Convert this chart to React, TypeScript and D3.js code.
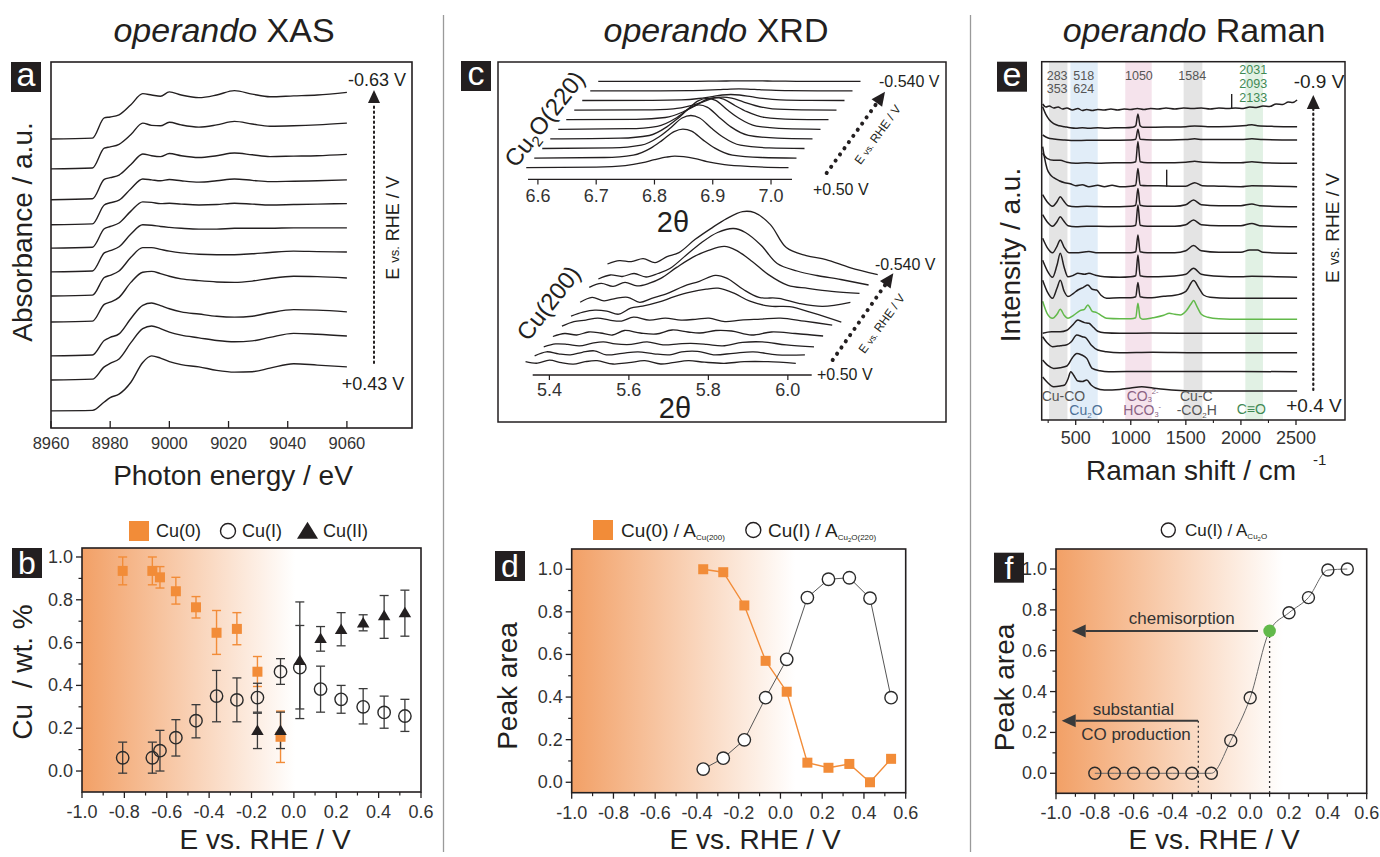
import React from 'react';
import * as d3 from 'd3';

const FONT = "'Liberation Sans', Arial, Helvetica, sans-serif";
const INK = '#231f20';
const ORANGE = '#f28c38';
const GRAD_L = '#f2a066';
const GREEN = '#62b94a';

// ---------------- panel a : operando XAS ----------------
const XAS_E = [8960, 8974, 8978, 8980, 8983, 8987, 8991, 8994, 8997, 9000, 9004, 9010, 9016, 9022, 9028, 9034, 9042, 9050, 9060];
const XAS_TRACES = [
  [0, 0.02, 0.48, 0.5, 0.55, 0.78, 1.03, 1.0, 0.97, 1.07, 1.0, 0.94, 1.0, 1.1, 1.02, 0.96, 0.98, 1.0, 1.06],
  [0, 0.02, 0.47, 0.5, 0.56, 0.78, 1.04, 0.99, 0.98, 1.06, 1.0, 0.95, 1.0, 1.08, 1.02, 0.97, 0.98, 1.0, 1.04],
  [0, 0.02, 0.46, 0.5, 0.56, 0.8, 1.04, 1.0, 0.98, 1.05, 1.0, 0.96, 1.0, 1.06, 1.02, 0.98, 0.99, 1.0, 1.03],
  [0, 0.02, 0.45, 0.5, 0.56, 0.82, 1.04, 1.02, 1.0, 1.03, 1.0, 0.97, 1.0, 1.04, 1.01, 0.98, 0.99, 1.0, 1.02],
  [0, 0.02, 0.44, 0.49, 0.57, 0.84, 1.05, 1.04, 1.01, 1.02, 1.0, 0.98, 0.99, 1.02, 1.0, 0.98, 0.99, 1.0, 1.01],
  [0, 0.02, 0.43, 0.48, 0.57, 0.86, 1.07, 1.06, 1.03, 1.01, 0.99, 0.97, 0.97, 0.99, 0.99, 0.99, 1.0, 1.0, 1.0],
  [0, 0.02, 0.42, 0.47, 0.57, 0.88, 1.1, 1.1, 1.06, 1.02, 0.98, 0.95, 0.94, 0.94, 0.96, 0.99, 1.02, 1.01, 1.0],
  [0, 0.02, 0.4, 0.45, 0.56, 0.9, 1.13, 1.15, 1.1, 1.04, 0.98, 0.94, 0.91, 0.9, 0.93, 0.99, 1.04, 1.03, 1.0],
  [0, 0.02, 0.35, 0.42, 0.5, 0.85, 1.15, 1.2, 1.14, 1.07, 1.0, 0.95, 0.9, 0.88, 0.9, 0.98, 1.05, 1.04, 1.0],
  [0, 0.02, 0.3, 0.38, 0.48, 0.85, 1.17, 1.23, 1.17, 1.09, 1.02, 0.96, 0.9, 0.87, 0.89, 0.97, 1.06, 1.04, 1.0],
  [0, 0.01, 0.2, 0.3, 0.38, 0.65, 1.1, 1.25, 1.2, 1.12, 1.05, 1.0, 0.92, 0.88, 0.89, 0.97, 1.07, 1.04, 1.0],
];
const XAS_OFFSET = [6.18, 5.5, 4.8, 4.23, 3.7, 3.16, 2.61, 2.02, 1.25, 0.7, 0];
const XAS_TICKS = [8960, 8980, 9000, 9020, 9040, 9060];
const XAS_POT = ['-0.63 V', '+0.43 V'];

// ---------------- panel b : XAS fractions ----------------
const CU0_E = [-0.808, -0.668, -0.632, -0.557, -0.462, -0.365, -0.269, -0.172, -0.063];
const CU0_V = [0.935, 0.935, 0.905, 0.84, 0.765, 0.646, 0.664, 0.464, 0.16];
const CU0_LO = [0.87, 0.87, 0.855, 0.78, 0.715, 0.545, 0.59, 0.395, 0.04];
const CU0_HI = [1.0, 1.0, 0.955, 0.905, 0.815, 0.75, 0.74, 0.535, 0.28];
const CU1_E = [-0.808, -0.668, -0.632, -0.557, -0.462, -0.365, -0.269, -0.172, -0.063, 0.028, 0.126, 0.223, 0.327, 0.426, 0.524];
const CU1_V = [0.062, 0.062, 0.095, 0.156, 0.235, 0.35, 0.332, 0.343, 0.464, 0.483, 0.383, 0.335, 0.3, 0.274, 0.257];
const CU1_LO = [-0.01, -0.01, 0.0, 0.07, 0.155, 0.23, 0.23, 0.275, 0.405, 0.245, 0.275, 0.27, 0.22, 0.2, 0.185];
const CU1_HI = [0.135, 0.135, 0.19, 0.24, 0.31, 0.47, 0.435, 0.41, 0.525, 0.79, 0.49, 0.4, 0.385, 0.35, 0.335];
const CU2_E = [-0.172, -0.063, 0.028, 0.126, 0.223, 0.327, 0.426, 0.524];
const CU2_V = [0.19, 0.19, 0.517, 0.62, 0.662, 0.693, 0.726, 0.74];
const CU2_LO = [0.105, 0.105, 0.29, 0.56, 0.585, 0.655, 0.62, 0.63];
const CU2_HI = [0.27, 0.275, 0.68, 0.675, 0.74, 0.73, 0.82, 0.845];

// ---------------- panel c : operando XRD ----------------
const XRD1_X = [6.58, 6.7, 6.75, 6.78, 6.8, 6.82, 6.835, 6.85, 6.87, 6.89, 6.92, 6.97, 7.03];
const XRD1_I = [
  [0, 0.5, 2, 5, 8, 10.5, 11.5, 11, 9, 6, 3, 1, 0],
  [0, 0.6, 3, 10, 18, 26.5, 29, 27, 18, 10, 3, 0.6, 0],
  [0, 0.6, 3.3, 11.5, 20.5, 30.5, 33, 30.5, 20.5, 11.5, 3.3, 0.6, 0],
  [0, 0.7, 3.4, 12, 21, 31, 34, 31.5, 21.5, 12, 3.5, 0.7, 0],
  [0, 0.6, 3, 10.5, 19, 28.5, 31, 29, 19.5, 11, 3.2, 0.6, 0],
  [0, 0.4, 2.2, 7.7, 13.6, 20, 22, 20.5, 14, 8, 2.3, 0.4, 0],
  [0, 0.3, 1.3, 4.5, 8, 12, 13, 12, 8.2, 4.6, 1.3, 0.3, 0],
  [0, 0.1, 0.6, 2, 3.7, 5.5, 6, 5.5, 3.8, 2.1, 0.6, 0.1, 0],
  [0, 0, 0.2, 0.7, 1.2, 1.8, 2, 1.8, 1.2, 0.7, 0.2, 0, 0],
  [0, 0, 0, 0.2, 0.3, 0.5, 0.5, 0.5, 0.3, 0.2, 0, 0, 0],
];
const XRD1_TICKS = [6.6, 6.7, 6.8, 6.9, 7.0];
const XRD2_X = [5.34, 5.37, 5.4, 5.43, 5.46, 5.49, 5.52, 5.56, 5.6, 5.64, 5.68, 5.71, 5.75, 5.79, 5.84, 5.89, 5.95, 6.02];
const XRD2_I = [
  [1, -0.5, 2.5, 0, -1.5, 1, 2, -1.3, 0, 2, -1.3, 0, 2, 0.5, -0.6, 1, 1, -0.6],
  [-4, 0, -2, -3, -0.5, 1, -3, -1.5, 0, -2, -3, 0, 0.5, -3, -1.5, 0, -3, -3],
  [-6, -3, -3.5, -5, -2.5, -1, -3, -3.5, -1, -4, -3, -2.5, -3.5, -5, -1.5, -1, -4, -6],
  [-6.5, -3.5, -5, -2, -3, -5, -0.5, -3, -4, 0, -2, -3, -0.5, -1, -5, -2, -3.5, -6],
  [-7, -2.5, -1, 1, -1, -2, 2, -1, 1, -1, 0, 1, -2.5, -1, 0, 1, -2, -6],
  [-8, -4, -2, -3, -6, 0, 2, 6, 11.5, 16, 19, 20, 15, 7, 2, 1.5, -5, -14],
  [-5, 0, -3.5, -1, 0, -5, -1, 4, 11, 16, 22, 19, 8, 0, -1, -6, -9, -5],
  [-1, 3, 0, 4, 0.5, 3, 8, 19, 29, 36, 40, 36, 25, 12, 1, -2, -5, -7],
  [-3.5, 0.5, -1, 2, -1.5, 2, 7, 20, 33, 43, 47, 43, 30, 12, 4.5, 0, -4, -9.5],
  [0.6, 4, 3, 6, 2, 8, 12, 25, 36, 46, 53, 52, 40, 17, 9, 5, -3, -10],
];
const XRD2_TICKS = [5.4, 5.6, 5.8, 6.0];

// ---------------- panel d : XRD peak areas ----------------
const D_E = [-0.37, -0.274, -0.173, -0.071, 0.03, 0.129, 0.23, 0.33, 0.429, 0.53];
const D_CU0 = [1.0, 0.986, 0.83, 0.57, 0.425, 0.092, 0.068, 0.086, 0.0, 0.11];
const D_CU1 = [0.062, 0.113, 0.199, 0.397, 0.577, 0.867, 0.953, 0.96, 0.864, 0.397];

// ---------------- panel e : operando Raman ----------------
const RAMAN_OFFSET = [311, 293.3, 280, 256.7, 233.3, 213.3, 193.3, 166.7, 142.7, 121.7, 100.7, 86.7, 67.3, 48.3, 29];
const RAMAN_GREEN = 10;
const RAMAN: [number, number][][] = [
  [[200, 5], [230, 2], [260, 3], [300, 1], [340, 2], [380, 0], [420, 1], [470, -1], [520, 0.5], [560, -1.5], [600, -0.5], [650, -1.5], [700, -0.5], [760, -1], [820, 0], [880, -1], [940, 0], [1000, -0.5], [1060, 0.5], [1120, -0.5], [1180, 0.5], [1250, 0], [1320, 1], [1400, 0], [1480, 1], [1560, 0.5], [1640, 1], [1720, 0], [1800, 1], [1880, 0.5], [1950, 1], [2020, 0.5], [2080, 2], [2140, 1.5], [2200, 3], [2260, 2.5], [2320, 5], [2380, 4.5], [2430, 7], [2470, 6.5], [2510, 9]],
  [[200, 20], [230, 12], [260, 7], [300, 3], [350, 1], [400, 0], [450, -1], [500, -1.5], [560, -1], [620, -1.5], [700, -1], [780, -1.5], [850, -1], [950, -1], [1020, -0.5], [1045, 1], [1065, 12.7], [1085, 1], [1110, -0.5], [1200, -0.5], [1350, -0.3], [1500, 0], [1580, 0.7], [1700, 0], [1900, 0.3], [2050, 1.3], [2100, 2], [2150, 1], [2300, 0.3], [2510, 0]],
  [[200, 5], [250, 2], [300, 1], [400, 0], [500, -0.5], [600, -0.3], [800, -0.3], [1000, 0], [1045, 0.8], [1065, 10.7], [1085, 0.8], [1200, 0], [1500, 0.5], [1580, 1.2], [1650, 0.5], [2000, 0.5], [2100, 1.2], [2200, 0.5], [2510, 0]],
  [[200, 10], [240, 5], [300, 3], [360, 3], [420, 1], [500, 0], [600, 0.5], [700, 0], [850, 0.5], [1000, 0.5], [1045, 1.5], [1065, 21.7], [1085, 1.5], [1150, 0.5], [1300, 0.5], [1500, 1], [1580, 2], [1650, 1], [2000, 0.5], [2100, 1.5], [2200, 0.5], [2510, 0]],
  [[200, 40], [215, 30], [240, 18], [270, 12], [300, 9], [350, 6], [400, 4], [450, 3], [500, 1], [560, 2], [620, 0], [700, 1.5], [760, 0], [830, 1.5], [900, 0], [1000, 0.5], [1045, 1.5], [1065, 18.3], [1085, 1.5], [1150, 1], [1250, 1], [1400, 0.5], [1500, 0.5], [1580, 4], [1650, 1], [1800, 0.5], [2000, 0], [2100, 1], [2510, 0]],
  [[200, 12], [240, 5], [290, 0.5], [330, 5], [360, 10], [390, 6], [430, 1], [500, 0], [600, 0.5], [800, 0], [1000, 0.5], [1045, 1.5], [1065, 18.3], [1085, 1.5], [1150, 0.5], [1400, 0.5], [1500, 2], [1570, 6.7], [1640, 2], [1800, 1], [2000, 1], [2100, 2.7], [2170, 1], [2510, 0]],
  [[200, 12], [240, 5], [290, 0.5], [330, 5], [360, 10], [390, 6], [430, 1], [500, 0], [600, 0.5], [800, 0.3], [1000, 0.5], [1045, 1.5], [1065, 21.7], [1085, 1.5], [1150, 0.5], [1400, 0.5], [1500, 2], [1570, 6.7], [1640, 2], [1800, 1], [2000, 1], [2100, 3.3], [2170, 1], [2510, 0]],
  [[200, 15], [240, 6], [290, 0.5], [330, 7], [360, 13.3], [395, 6], [440, 0.5], [500, 0.5], [620, 1.7], [700, 0.5], [850, 0.5], [1000, 0.5], [1045, 1.5], [1065, 18.3], [1085, 1.5], [1150, 0.5], [1400, 0.5], [1500, 2.5], [1570, 7.7], [1640, 2.5], [1800, 1], [2000, 1], [2080, 3.3], [2150, 3.3], [2200, 1], [2510, 0]],
  [[200, 17], [240, 7], [290, 0], [330, 12], [360, 24], [395, 10], [430, 0.5], [480, 2], [520, 4], [580, 3], [620, 4], [680, 2], [760, 0.5], [900, 0], [1000, 0.5], [1045, 1.5], [1065, 22.3], [1085, 1.5], [1150, 0.5], [1350, 1], [1500, 3], [1570, 9], [1640, 3], [1800, 1], [2000, 0.5], [2100, 1], [2510, 0]],
  [[200, 18], [240, 7], [290, 0], [330, 10], [360, 18], [395, 7], [430, 1.7], [480, 5], [520, 8.3], [570, 11], [610, 13.3], [650, 9], [690, 8.3], [730, 3], [780, 0], [900, 0.5], [1000, 0.5], [1045, 1.5], [1065, 15.7], [1085, 1.5], [1150, 0.5], [1300, 2], [1400, 3], [1500, 7], [1570, 17.7], [1620, 10], [1660, 3.3], [1720, 1], [1900, 0], [2510, 0]],
  [[200, 18], [240, 6], [290, 1], [330, 5], [360, 10], [395, 4], [430, 1], [480, 4], [540, 8.7], [580, 10], [610, 14.3], [650, 8], [690, 6.7], [730, 4], [780, 1], [900, 0.5], [1000, 0.5], [1045, 1.5], [1065, 16], [1085, 1.5], [1110, 0], [1200, 1.5], [1300, 4], [1350, 6], [1400, 5], [1450, 4.3], [1500, 8], [1545, 15], [1570, 18.7], [1600, 13], [1640, 5], [1700, 2], [1800, 0.5], [2000, 0], [2510, 0]],
  [[200, 0], [280, 1.5], [360, 1.5], [420, 3], [470, 8], [520, 13.3], [550, 12], [580, 10.7], [620, 10], [660, 6], [700, 2], [760, 0.5], [900, 0], [1200, 0.3], [1600, 0], [2510, 0]],
  [[200, 16], [240, 10], [290, 6], [360, 7], [420, 8], [460, 11], [510, 17.7], [560, 16], [590, 15], [640, 7.7], [700, 2.7], [780, 1], [900, 0], [1200, 0.5], [1600, 0], [2510, 0]],
  [[200, 11.7], [250, 6], [300, 3.3], [360, 4], [420, 5.7], [470, 14], [510, 18.3], [550, 17], [600, 13.3], [650, 3.3], [720, 1], [800, 0], [1200, 0.3], [2510, 0]],
  [[200, 14], [240, 9], [300, 4.3], [360, 5], [400, 6], [430, 12], [455, 19.3], [480, 16], [520, 10], [560, 9.5], [600, 11], [640, 6], [680, 3], [760, 1], [900, 1.5], [1000, 3], [1100, 4.3], [1200, 3], [1300, 1.7], [1450, 0.5], [1600, 0], [2510, 0]],
];
const SPIKE_TRACE = [0, 4];
const SPIKE_X = [1916, 1326];
const SPIKE_H = [15, 17];
const RAMAN_TICKS = [500, 1000, 1500, 2000, 2500];
const RAMAN_MINOR = [250, 750, 1250, 1750, 2250];
const BAND_LO = [258, 452, 950, 1480, 2040];
const BAND_HI = [425, 700, 1190, 1650, 2200];
const BAND_COLOR = ['#e4e4e4', '#e1edf8', '#f5e3ec', '#e4e4e4', '#e1f1e4'];

// ---------------- panel f : Raman peak area ----------------
const F_E = [-0.8, -0.7, -0.6, -0.5, -0.4, -0.3, -0.2, -0.1, 0.0, 0.1, 0.2, 0.3, 0.4, 0.5];
const F_CU1 = [0, 0, 0, 0, 0, 0, 0, 0.16, 0.37, 0.697, 0.786, 0.86, 0.995, 1.0];
const F_GREEN_E = 0.1;
const F_CO_E = -0.267;

const E_TICKS = [-1.0, -0.8, -0.6, -0.4, -0.2, 0.0, 0.2, 0.4, 0.6];
const E_MINOR = [-0.9, -0.7, -0.5, -0.3, -0.1, 0.1, 0.3, 0.5];
const P_TICKS = [0, 0.2, 0.4, 0.6, 0.8, 1.0];
const P_MINOR = [0.1, 0.3, 0.5, 0.7, 0.9];

function LabelBox({ x, y, ch, tall }: { x: number; y: number; ch: string; tall?: boolean }) {
  return (
    <g>
      <rect x={x} y={y} width={30} height={30} fill={INK} />
      <text x={x + 15} y={y + (tall ? 26 : 24)} fill="#fff" fontSize={tall ? 32 : 34} textAnchor="middle">{ch}</text>
    </g>
  );
}

function Arrow({ x1, y1, x2, y2, len, w, color, sw, dash }: any) {
  const ang = Math.atan2(y2 - y1, x2 - x1);
  const bx = x2 - len * Math.cos(ang);
  const by = y2 - len * Math.sin(ang);
  const px = -Math.sin(ang) * w / 2;
  const py = Math.cos(ang) * w / 2;
  return (
    <g>
      <line x1={x1} y1={y1} x2={bx} y2={by} stroke={color} strokeWidth={sw} strokeDasharray={dash} strokeLinecap={dash ? 'round' : 'butt'} />
      <path d={`M${x2},${y2}L${bx + px},${by + py}L${bx - px},${by - py}Z`} fill={color} />
    </g>
  );
}

function EAxes({ x, y, frame, fs }: any) {
  const [l, t, r, b] = frame;
  return (
    <g fontSize={fs} fill="#333">
      {E_TICKS.map((v) => (
        <g key={'xt' + v}>
          <line x1={x(v)} x2={x(v)} y1={b} y2={b + 6} stroke={INK} strokeWidth={1.3} />
          <text x={x(v)} y={b + 26} textAnchor="middle">{v.toFixed(1)}</text>
        </g>
      ))}
      {E_MINOR.map((v) => <line key={'xm' + v} x1={x(v)} x2={x(v)} y1={b} y2={b + 3.5} stroke={INK} strokeWidth={1.2} />)}
      {P_TICKS.map((v) => (
        <g key={'yt' + v}>
          <line x1={l - 6} x2={l} y1={y(v)} y2={y(v)} stroke={INK} strokeWidth={1.3} />
          <text x={l - 9} y={y(v) + 6} textAnchor="end">{v.toFixed(1)}</text>
        </g>
      ))}
      {P_MINOR.map((v) => <line key={'ym' + v} x1={l - 3.5} x2={l} y1={y(v)} y2={y(v)} stroke={INK} strokeWidth={1.2} />)}
      <rect x={l} y={t} width={r - l} height={b - t} fill="none" stroke={INK} strokeWidth={1.6} />
    </g>
  );
}

export default function App() {
  // ---------- scales ----------
  const xA = d3.scaleLinear().domain([8960, 9082]).range([51, 412]);
  const yA = d3.scaleLinear().domain([-0.39, 7.93]).range([428, 62]);

  const xB = d3.scaleLinear().domain([-1, 0.6]).range([82, 421]);
  const yB = d3.scaleLinear().domain([-0.098, 1.042]).range([792, 548]);

  const xC1 = d3.scaleLinear().domain([6.583, 7.036]).range([528, 792]);
  const xC2 = d3.scaleLinear().domain([5.358, 6.06]).range([532.7, 811.7]);
  const iC = d3.scaleLinear().domain([0, 60]).range([0, 60]);

  const xD = d3.scaleLinear().domain([-1, 0.6]).range([571.7, 905.7]);
  const yD = d3.scaleLinear().domain([-0.049, 1.095]).range([792.7, 549]);

  const xE = d3.scaleLinear().domain([191.3, 2944.9]).range([1041.7, 1345]);
  const yE = d3.scaleLinear().domain([0, 358.3]).range([420, 61.7]);

  const xF = d3.scaleLinear().domain([-1, 0.6]).range([1056, 1366.7]);
  const yF = d3.scaleLinear().domain([-0.098, 1.098]).range([793.3, 549]);

  const lineXAS = (tr: number[], off: number) =>
    d3.line<number>().x((_, j) => xA(XAS_E[j])).y((v) => yA(v + off)).curve(d3.curveMonotoneX)(tr) || '';

  const lineRaman = (tr: [number, number][], off: number) =>
    d3.line<[number, number]>().x((d) => xE(d[0])).y((d) => yE(off + d[1])).curve(d3.curveMonotoneX)(tr) || '';

  const triPath = (cx: number, cy: number, w: number, h: number) =>
    `M${cx},${cy - h * 0.55}L${cx + w / 2},${cy + h * 0.45}L${cx - w / 2},${cy + h * 0.45}Z`;

  const vs = (size: number) => <tspan fontSize={size}>vs.</tspan>;

  return (
    <svg width={1380} height={857} style={{ position: 'absolute', left: 0, top: 0, background: '#fff' }} fontFamily={FONT}>
      <defs>
        <linearGradient id="gb" gradientUnits="userSpaceOnUse" x1={82} x2={295} y1={0} y2={0}>
          <stop offset="0" stopColor={GRAD_L} />
          <stop offset="1" stopColor="#ffffff" />
        </linearGradient>
        <linearGradient id="gd" gradientUnits="userSpaceOnUse" x1={571.7} x2={795} y1={0} y2={0}>
          <stop offset="0" stopColor={GRAD_L} />
          <stop offset="1" stopColor="#ffffff" />
        </linearGradient>
        <linearGradient id="gf" gradientUnits="userSpaceOnUse" x1={1056} x2={1283} y1={0} y2={0}>
          <stop offset="0" stopColor={GRAD_L} />
          <stop offset="1" stopColor="#ffffff" />
        </linearGradient>
        <clipPath id="clipC"><rect x={498} y={62} width={448} height={360} /></clipPath>
      </defs>

      {/* separators */}
      <line x1={443.5} x2={443.5} y1={15} y2={852} stroke="#9a9a9a" strokeWidth={1.3} />
      <line x1={970.5} x2={970.5} y1={15} y2={852} stroke="#9a9a9a" strokeWidth={1.3} />

      {/* titles */}
      <g fontSize={34} fill={INK} textAnchor="middle">
        <text x={224} y={42}><tspan fontStyle="italic">operando</tspan> XAS</text>
        <text x={716} y={42}><tspan fontStyle="italic">operando</tspan> XRD</text>
        <text x={1194} y={42}><tspan fontStyle="italic">operando</tspan> Raman</text>
      </g>

      {/* ================= panel a ================= */}
      <g>
        <rect x={51} y={62} width={361} height={366} fill="none" stroke={INK} strokeWidth={1.6} />
        {XAS_TRACES.map((tr, i) => (
          <path key={i} d={lineXAS(tr, XAS_OFFSET[i])} fill="none" stroke={INK} strokeWidth={1.4} />
        ))}
        {XAS_TICKS.map((v) => (
          <g key={v}>
            <line x1={xA(v)} x2={xA(v)} y1={428} y2={421} stroke={INK} strokeWidth={1.3} />
            <text x={xA(v)} y={449} fontSize={16.5} fill="#333" textAnchor="middle">{v}</text>
          </g>
        ))}
        <text x={233} y={485} fontSize={28} fill={INK} textAnchor="middle">Photon energy / eV</text>
        <text transform="translate(32,232) rotate(-90)" fontSize={28} fill={INK} textAnchor="middle">Absorbance / a.u.</text>
        <Arrow x1={374} y1={363} x2={374} y2={90} len={13} w={12} color={INK} sw={2} dash="1.5 3.5" />
        <text x={377} y={86} fontSize={18} fill={INK} textAnchor="middle">{XAS_POT[0]}</text>
        <text x={373} y={390} fontSize={18} fill={INK} textAnchor="middle">{XAS_POT[1]}</text>
        <text transform="translate(398.5,228) rotate(-90)" fontSize={18} fill={INK} textAnchor="middle">E {vs(13)} RHE / V</text>
        <LabelBox x={11} y={62} ch="a" />
      </g>

      {/* ================= panel b ================= */}
      <g>
        <rect x={82} y={548} width={339} height={244} fill="url(#gb)" />
        {CU0_E.map((e, i) => (
          <g key={'b0e' + i} stroke={ORANGE} strokeWidth={1.4}>
            <line x1={xB(e)} x2={xB(e)} y1={yB(CU0_LO[i])} y2={yB(CU0_HI[i])} />
            <line x1={xB(e) - 4.5} x2={xB(e) + 4.5} y1={yB(CU0_LO[i])} y2={yB(CU0_LO[i])} />
            <line x1={xB(e) - 4.5} x2={xB(e) + 4.5} y1={yB(CU0_HI[i])} y2={yB(CU0_HI[i])} />
          </g>
        ))}
        {CU1_E.map((e, i) => (
          <g key={'b1e' + i} stroke="#3a3a3a" strokeWidth={1.3}>
            <line x1={xB(e)} x2={xB(e)} y1={yB(CU1_LO[i])} y2={yB(CU1_HI[i])} />
            <line x1={xB(e) - 4.5} x2={xB(e) + 4.5} y1={yB(CU1_LO[i])} y2={yB(CU1_LO[i])} />
            <line x1={xB(e) - 4.5} x2={xB(e) + 4.5} y1={yB(CU1_HI[i])} y2={yB(CU1_HI[i])} />
          </g>
        ))}
        {CU2_E.map((e, i) => (
          <g key={'b2e' + i} stroke="#3a3a3a" strokeWidth={1.3}>
            <line x1={xB(e)} x2={xB(e)} y1={yB(CU2_LO[i])} y2={yB(CU2_HI[i])} />
            <line x1={xB(e) - 4.5} x2={xB(e) + 4.5} y1={yB(CU2_LO[i])} y2={yB(CU2_LO[i])} />
            <line x1={xB(e) - 4.5} x2={xB(e) + 4.5} y1={yB(CU2_HI[i])} y2={yB(CU2_HI[i])} />
          </g>
        ))}
        {CU0_E.map((e, i) => (
          <rect key={'b0' + i} x={xB(e) - 5} y={yB(CU0_V[i]) - 5} width={10} height={10} fill={ORANGE} />
        ))}
        {CU1_E.map((e, i) => (
          <circle key={'b1' + i} cx={xB(e)} cy={yB(CU1_V[i])} r={6.2} fill="none" stroke="#2a2a2a" strokeWidth={1.4} />
        ))}
        {CU2_E.map((e, i) => (
          <path key={'b2' + i} d={triPath(xB(e), yB(CU2_V[i]), 12.5, 10.5)} fill={INK} />
        ))}
        <EAxes x={xB} y={yB} frame={[82, 548, 421, 792]} fs={18} />
        <text x={265} y={849} fontSize={28} fill={INK} textAnchor="middle">E vs. RHE / V</text>
        <text transform="translate(32,672) rotate(-90)" fontSize={28} fill={INK} textAnchor="middle">Cu{'\u00a0\u00a0'}/ wt. %</text>
        {/* legend */}
        <rect x={129} y={521} width={20} height={20} fill={ORANGE} />
        <text x={156} y={537} fontSize={18} fill={INK}>Cu(0)</text>
        <circle cx={228} cy={531} r={7.5} fill="none" stroke={INK} strokeWidth={1.4} />
        <text x={242} y={537} fontSize={18} fill={INK}>Cu(I)</text>
        <path d={triPath(307.5, 531, 21, 17)} fill={INK} />
        <text x={323} y={537} fontSize={18} fill={INK}>Cu(II)</text>
        <LabelBox x={12} y={548} ch="b" tall />
      </g>

      {/* ================= panel c ================= */}
      <g>
        <rect x={498} y={62} width={448} height={360} fill="none" stroke={INK} strokeWidth={1.5} />
        <g clipPath="url(#clipC)">
          {XRD1_I.map((tr, i) => (
            <path
              key={'c1' + i}
              d={d3.line<number>().x((_, j) => xC1(XRD1_X[j]) + i * 8).y((v) => 167.7 - i * 9.6 - iC(v)).curve(d3.curveMonotoneX)(tr) || ''}
              fill="none" stroke={INK} strokeWidth={1.3}
            />
          ))}
          {XRD2_I.map((tr, i) => (
            <path
              key={'c2' + i}
              d={d3.line<number>().x((_, j) => xC2(XRD2_X[j]) + i * 9.1).y((v) => 362.7 - i * 10.9 - iC(v)).curve(d3.curveCatmullRom.alpha(0.5))(tr) || ''}
              fill="none" stroke={INK} strokeWidth={1.3}
            />
          ))}
        </g>
        {/* top axis */}
        <line x1={528} x2={792} y1={179.3} y2={179.3} stroke={INK} strokeWidth={1.3} />
        {XRD1_TICKS.map((v) => (
          <g key={'ct' + v}>
            <line x1={xC1(v)} x2={xC1(v)} y1={179.3} y2={184.5} stroke={INK} strokeWidth={1.2} />
            <text x={xC1(v)} y={201.5} fontSize={18} fill="#333" textAnchor="middle">{v.toFixed(1)}</text>
          </g>
        ))}
        <text x={673} y={231.5} fontSize={29} fill={INK} textAnchor="middle">2θ</text>
        {/* bottom axis */}
        <line x1={532.7} x2={811.7} y1={375} y2={375} stroke={INK} strokeWidth={1.3} />
        {XRD2_TICKS.map((v) => (
          <g key={'cb' + v}>
            <line x1={xC2(v)} x2={xC2(v)} y1={375} y2={380} stroke={INK} strokeWidth={1.2} />
            <text x={xC2(v)} y={396} fontSize={18} fill="#333" textAnchor="middle">{v.toFixed(1)}</text>
          </g>
        ))}
        <text x={675} y={418} fontSize={29} fill={INK} textAnchor="middle">2θ</text>
        {/* reflection labels */}
        <text transform="translate(551,124) rotate(-52)" fontSize={24} fill={INK} textAnchor="middle">
          Cu<tspan fontSize={15} dy={5}>2</tspan><tspan dy={-5}>O(220)</tspan>
        </text>
        <text transform="translate(555,308) rotate(-52)" fontSize={24} fill={INK} textAnchor="middle">Cu(200)</text>
        {/* arrows */}
        <Arrow x1={826.7} y1={173} x2={885} y2={91.7} len={14} w={13} color={INK} sw={4} dash="0.1 7.5" />
        <Arrow x1={832.7} y1={360} x2={893.3} y2={273.3} len={14} w={13} color={INK} sw={4} dash="0.1 7.5" />
        <g fontSize={16} fill={INK}>
          <text x={879} y={86.7}>-0.540 V</text>
          <text x={813} y={195}>+0.50 V</text>
          <text x={875} y={270}>-0.540 V</text>
          <text x={817} y={380}>+0.50 V</text>
        </g>
        <g fontSize={12} fill={INK} textAnchor="middle">
          <text transform="translate(881,137) rotate(-54)">E {vs(9)} RHE / V</text>
          <text transform="translate(885,326) rotate(-54)">E {vs(9)} RHE / V</text>
        </g>
        <LabelBox x={461} y={61} ch="c" />
      </g>

      {/* ================= panel d ================= */}
      <g>
        <rect x={571.7} y={549} width={334} height={243.7} fill="url(#gd)" />
        <path d={d3.line<number>().x((_, i) => xD(D_E[i])).y((v) => yD(v))(D_CU0) || ''} fill="none" stroke={ORANGE} strokeWidth={1.4} />
        <path d={d3.line<number>().x((_, i) => xD(D_E[i])).y((v) => yD(v))(D_CU1) || ''} fill="none" stroke="#555" strokeWidth={1} />
        {D_E.map((e, i) => (
          <rect key={'d0' + i} x={xD(e) - 5} y={yD(D_CU0[i]) - 5} width={10} height={10} fill={ORANGE} />
        ))}
        {D_E.map((e, i) => (
          <circle key={'d1' + i} cx={xD(e)} cy={yD(D_CU1[i])} r={6.2} fill="#fff" stroke="#2a2a2a" strokeWidth={1.4} />
        ))}
        <EAxes x={xD} y={yD} frame={[571.7, 549, 905.7, 792.7]} fs={18} />
        <text x={755} y={849} fontSize={28} fill={INK} textAnchor="middle">E vs. RHE / V</text>
        <text transform="translate(517,686) rotate(-90)" fontSize={28} fill={INK} textAnchor="middle">Peak area</text>
        <rect x={593} y={520} width={20} height={20} fill={ORANGE} />
        <text x={621} y={537} fontSize={19} fill={INK}>Cu(0) / A<tspan fontSize={8} dy={3}>Cu(200)</tspan></text>
        <circle cx={753.3} cy={530} r={7.5} fill="none" stroke={INK} strokeWidth={1.4} />
        <text x={768} y={537} fontSize={19} fill={INK}>Cu(I) / A<tspan fontSize={8} dy={3}>Cu</tspan><tspan fontSize={6} dy={1.5}>2</tspan><tspan fontSize={8} dy={-1.5}>O(220)</tspan></text>
        <LabelBox x={495} y={551} ch="d" tall />
      </g>

      {/* ================= panel e ================= */}
      <g>
        {BAND_LO.map((lo, i) => (
          <rect key={'band' + i} x={xE(lo)} y={61.7} width={xE(BAND_HI[i]) - xE(lo)} height={358.3} fill={BAND_COLOR[i]} />
        ))}
        {RAMAN.map((tr, i) => (
          <path key={'r' + i} d={lineRaman(tr, RAMAN_OFFSET[i])} fill="none"
            stroke={i === RAMAN_GREEN ? GREEN : INK} strokeWidth={1.5} />
        ))}
        {SPIKE_X.map((sx, k) => (
          <line key={'sp' + k} x1={xE(sx)} x2={xE(sx)} y1={yE(RAMAN_OFFSET[SPIKE_TRACE[k]])} y2={yE(RAMAN_OFFSET[SPIKE_TRACE[k]] + SPIKE_H[k])} stroke={INK} strokeWidth={1.4} />
        ))}
        <rect x={1041.7} y={61.7} width={303.3} height={358.3} fill="none" stroke={INK} strokeWidth={1.5} />
        {RAMAN_TICKS.map((v) => (
          <g key={'et' + v}>
            <line x1={xE(v)} x2={xE(v)} y1={420} y2={425} stroke={INK} strokeWidth={1.3} />
            <text x={xE(v)} y={444} fontSize={18} fill="#333" textAnchor="middle">{v}</text>
          </g>
        ))}
        {RAMAN_MINOR.map((v) => <line key={'em' + v} x1={xE(v)} x2={xE(v)} y1={420} y2={423} stroke={INK} strokeWidth={1.1} />)}
        <text x={1191} y={480} fontSize={28} fill={INK} textAnchor="middle">Raman shift / cm</text>
        <text x={1313} y={465} fontSize={15} fill={INK}>-1</text>
        <text transform="translate(1020,255) rotate(-90)" fontSize={28} fill={INK} textAnchor="middle">Intensity / a.u.</text>
        {/* band labels */}
        <g fontSize={12.5} fill="#555">
          <text x={1046.7} y={80}>283</text>
          <text x={1046.7} y={92.5}>353</text>
          <text x={1073.3} y={80}>518</text>
          <text x={1073.3} y={92.5}>624</text>
          <text x={1125} y={80}>1050</text>
          <text x={1178.3} y={80}>1584</text>
        </g>
        <g fontSize={12.5} fill="#3f8a55">
          <text x={1239.3} y={73.5}>2031</text>
          <text x={1239.3} y={88}>2093</text>
          <text x={1239.3} y={102}>2133</text>
        </g>
        <g fontSize={14}>
          <text x={1041.7} y={401}>
            <tspan fill="#555">Cu-CO</tspan>
          </text>
          <text x={1069.3} y={415} fill="#4d7298">Cu<tspan fontSize={8} dy={3}>2</tspan><tspan dy={-3}>O</tspan></text>
          <text x={1126.7} y={400.5} fill="#8b6283">CO<tspan fontSize={7.5} dy={1.5}>3</tspan><tspan fontSize={7.5} dy={-8}>2-</tspan></text>
          <text x={1123.3} y={415} fill="#8b6283">HCO<tspan fontSize={7.5} dy={2}>3</tspan><tspan fontSize={7.5} dy={-8}>-</tspan></text>
          <text x={1180} y={401}>
            <tspan fill="#555">Cu-C</tspan>
          </text>
          <text x={1176.7} y={415} fill="#555">-CO<tspan fontSize={8} dy={3}>2</tspan><tspan dy={-3}>H</tspan></text>
          <text x={1236.7} y={414} fill="#3f8a55">C≡O</text>
        </g>
        <Arrow x1={1313.3} y1={390} x2={1313.3} y2={95} len={14} w={13} color={INK} sw={2.2} dash="1.5 3.5" />
        <text x={1319} y={88} fontSize={19} fill={INK} textAnchor="middle">-0.9 V</text>
        <text x={1314} y={412} fontSize={19} fill={INK} textAnchor="middle">+0.4 V</text>
        <text transform="translate(1338.5,228) rotate(-90)" fontSize={19} fill={INK} textAnchor="middle">E {vs(14)} RHE / V</text>
        <LabelBox x={997} y={61.7} ch="e" />
      </g>

      {/* ================= panel f ================= */}
      <g>
        <rect x={1056} y={549} width={310.7} height={244.3} fill="url(#gf)" />
        <path d={d3.line<number>().x((_, i) => xF(F_E[i])).y((v) => yF(v)).curve(d3.curveMonotoneX)(F_CU1) || ''} fill="none" stroke="#666" strokeWidth={1} />
        <line x1={xF(F_GREEN_E)} x2={xF(F_GREEN_E)} y1={yF(0.697)} y2={793.3} stroke="#333" strokeWidth={1.3} strokeDasharray="2 3" />
        <line x1={xF(F_CO_E)} x2={xF(F_CO_E)} y1={720.7} y2={793.3} stroke="#333" strokeWidth={1.3} strokeDasharray="2 3" />
        {F_E.map((e, i) => (
          e === F_GREEN_E
            ? <circle key={'f' + i} cx={xF(e)} cy={yF(F_CU1[i])} r={6.3} fill={GREEN} />
            : <circle key={'f' + i} cx={xF(e)} cy={yF(F_CU1[i])} r={6} fill="none" stroke="#2a2a2a" strokeWidth={1.4} />
        ))}
        <Arrow x1={1258} y1={631} x2={1071.7} y2={631} len={14} w={13} color="#3a3a3a" sw={2} />
        <Arrow x1={1198} y1={720.7} x2={1061.7} y2={720.7} len={14} w={13} color="#3a3a3a" sw={2} />
        <g fontSize={17} fill="#333" textAnchor="middle">
          <text x={1181.7} y={624}>chemisorption</text>
          <text x={1133.3} y={715}>substantial</text>
          <text x={1136} y={740}>CO production</text>
        </g>
        <EAxes x={xF} y={yF} frame={[1056, 549, 1366.7, 793.3]} fs={18} />
        <text x={1214} y={849} fontSize={28} fill={INK} textAnchor="middle">E vs. RHE / V</text>
        <text transform="translate(1013.5,687.5) rotate(-90)" fontSize={28} fill={INK} textAnchor="middle">Peak area</text>
        <circle cx={1168.3} cy={530} r={7} fill="none" stroke={INK} strokeWidth={1.4} />
        <text x={1185} y={536} fontSize={17} fill={INK}>Cu(I) / A<tspan fontSize={8} dy={3}>Cu</tspan><tspan fontSize={6} dy={1.5}>2</tspan><tspan fontSize={8} dy={-1.5}>O</tspan></text>
        <LabelBox x={994} y={552.7} ch="f" tall />
      </g>
    </svg>
  );
}
